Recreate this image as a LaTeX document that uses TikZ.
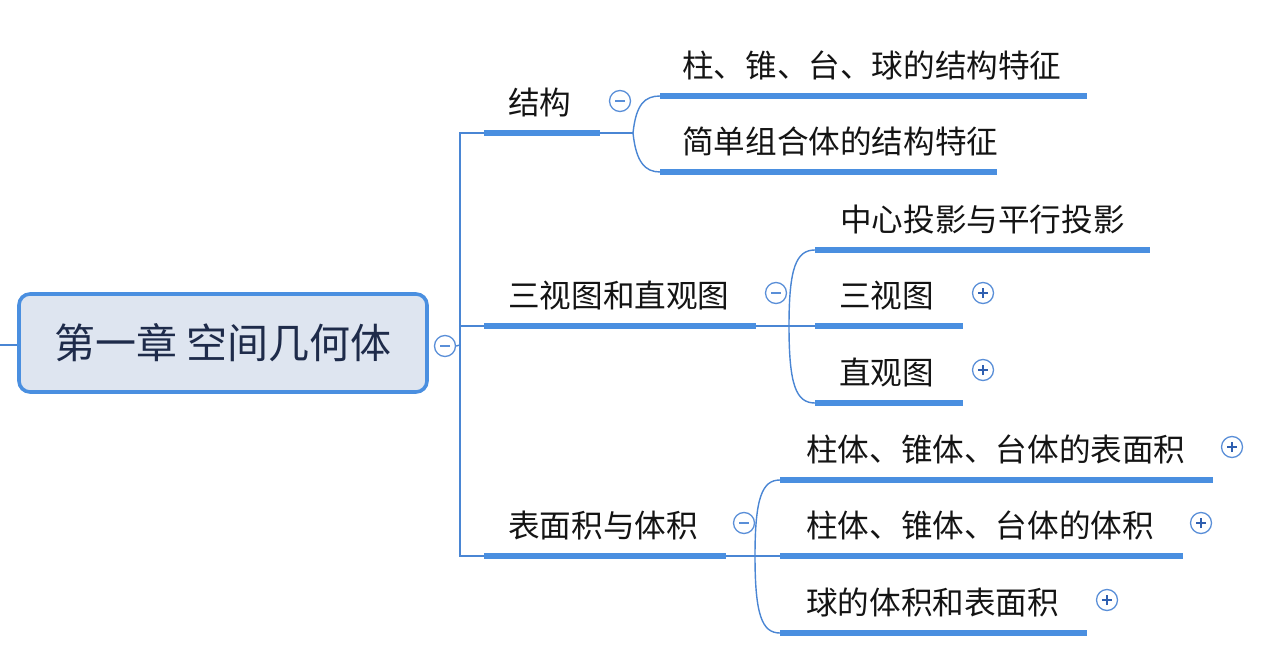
\documentclass[tikz,border=0pt]{standalone}
\usepackage{fontspec}
\setmainfont{Noto Sans CJK SC}
\definecolor{ulblue}{HTML}{4A8FE0}
\definecolor{lnblue}{HTML}{4A86D4}
\definecolor{rootfill}{HTML}{DEE5F0}
\definecolor{rootdraw}{HTML}{4A8FE0}
\definecolor{roottext}{HTML}{1E2B4A}
\definecolor{btnblue}{HTML}{5A8FD8}
\definecolor{plusblue}{HTML}{2F5FB0}
\begin{document}
\begin{tikzpicture}[x=1pt,y=-1pt,
  topic/.style={anchor=south west, inner xsep=0pt, inner ysep=0pt,
    text height=24pt, text depth=18pt, align=left,
    font=\fontsize{31.6}{31.6}\selectfont, text=black!92},
  ul/.style={draw=ulblue, line width=5.5pt},
  ln/.style={draw=lnblue, line width=1.4pt},
  btn/.style={circle, draw=btnblue, line width=1.3pt, fill=white,
    minimum size=21pt, inner sep=0pt},
  minusbtn/.style={btn, path picture={
    \draw[btnblue, line width=1.5pt]
      ([xshift=-5pt]path picture bounding box.center) --
      ([xshift=5pt]path picture bounding box.center);}},
  plusbtn/.style={btn, path picture={
    \draw[plusblue, line width=1.6pt]
      ([xshift=-5pt]path picture bounding box.center) --
      ([xshift=5pt]path picture bounding box.center)
      ([yshift=-5pt]path picture bounding box.center) --
      ([yshift=5pt]path picture bounding box.center);}},
  rootbox/.style={rounded corners=11pt, draw=rootdraw, line width=3.6pt,
    fill=rootfill, minimum width=408pt, minimum height=98pt,
    font=\fontsize{41}{41}\selectfont, text=roottext, inner sep=0pt}
]
\useasboundingbox[fill=white] (0,0) rectangle (1276,652);

% root
\node[rootbox] (root) at (223,343) {第一章 空间几何体};
\coordinate (rootin) at (0,345);
\draw[ln] (rootin) -- (rootin -| root.west);
\node[minusbtn] (rc) at (445,346) {};
\coordinate (trunk) at (460,345);
\draw[ln] (rc.east) -- (trunk);

% branches
\node[topic, text width=116pt] (b1) at (484,133) {\hspace*{24pt}结构};
\node[topic, text width=272pt] (b2) at (484,326) {\hspace*{24pt}三视图和直观图};
\node[topic, text width=242pt] (b3) at (484,556) {\hspace*{24pt}表面积与体积};

% leaves
\node[topic, text width=427pt] (l1) at (660,96) {\hspace*{22pt}柱、锥、台、球的结构特征};
\node[topic, text width=337pt] (l2) at (660,172) {\hspace*{22pt}简单组合体的结构特征};
\node[topic, text width=335pt] (l3) at (815,250) {\hspace*{25pt}中心投影与平行投影};
\node[topic, text width=148pt] (l4) at (815,326) {\hspace*{24pt}三视图};
\node[topic, text width=148pt] (l5) at (815,403) {\hspace*{24pt}直观图};
\node[topic, text width=433pt] (l6) at (780,480) {\hspace*{26pt}柱体、锥体、台体的表面积};
\node[topic, text width=403pt] (l7) at (780,556) {\hspace*{26pt}柱体、锥体、台体的体积};
\node[topic, text width=307pt] (l8) at (780,633) {\hspace*{26pt}球的体积和表面积};

% underlines
\foreach \n in {b1,b2,b3,l1,l2,l3,l4,l5,l6,l7,l8}
  \draw[ul] (\n.south west) -- (\n.south east);

% trunk connectors
\draw[ln] (trunk) |- (b1.south west);
\draw[ln] (trunk) |- (b2.south west);
\draw[ln] (trunk) |- (b3.south west);

% branch 1
\coordinate (j1) at (633,133);
\draw[ln] (b1.south east) -- (j1);
\draw[ln] (j1) .. controls (636,104) and (645,96) .. (l1.south west);
\draw[ln] (j1) .. controls (636,162) and (645,172) .. (l2.south west);

% branch 2
\coordinate (j2) at (789,326);
\draw[ln] (b2.south east) -- (j2) -- (l4.south west);
\draw[ln] (j2) .. controls (789,268) and (796,250) .. (l3.south west);
\draw[ln] (j2) .. controls (789,385) and (796,403) .. (l5.south west);

% branch 3
\coordinate (j3) at (755,556);
\draw[ln] (b3.south east) -- (j3) -- (l7.south west);
\draw[ln] (j3) .. controls (755,498) and (762,480) .. (l6.south west);
\draw[ln] (j3) .. controls (755,615) and (762,633) .. (l8.south west);

% buttons
\node[minusbtn] (bc1) at (620,101) {};
\node[minusbtn] (bc2) at (776,293) {};
\node[minusbtn] (bc3) at (744,523) {};
\node[plusbtn] (pc4) at (983,293) {};
\node[plusbtn] (pc5) at (983,370) {};
\node[plusbtn] (pc6) at (1232,447) {};
\node[plusbtn] (pc7) at (1201,523) {};
\node[plusbtn] (pc8) at (1107,600) {};
\end{tikzpicture}
\end{document}
